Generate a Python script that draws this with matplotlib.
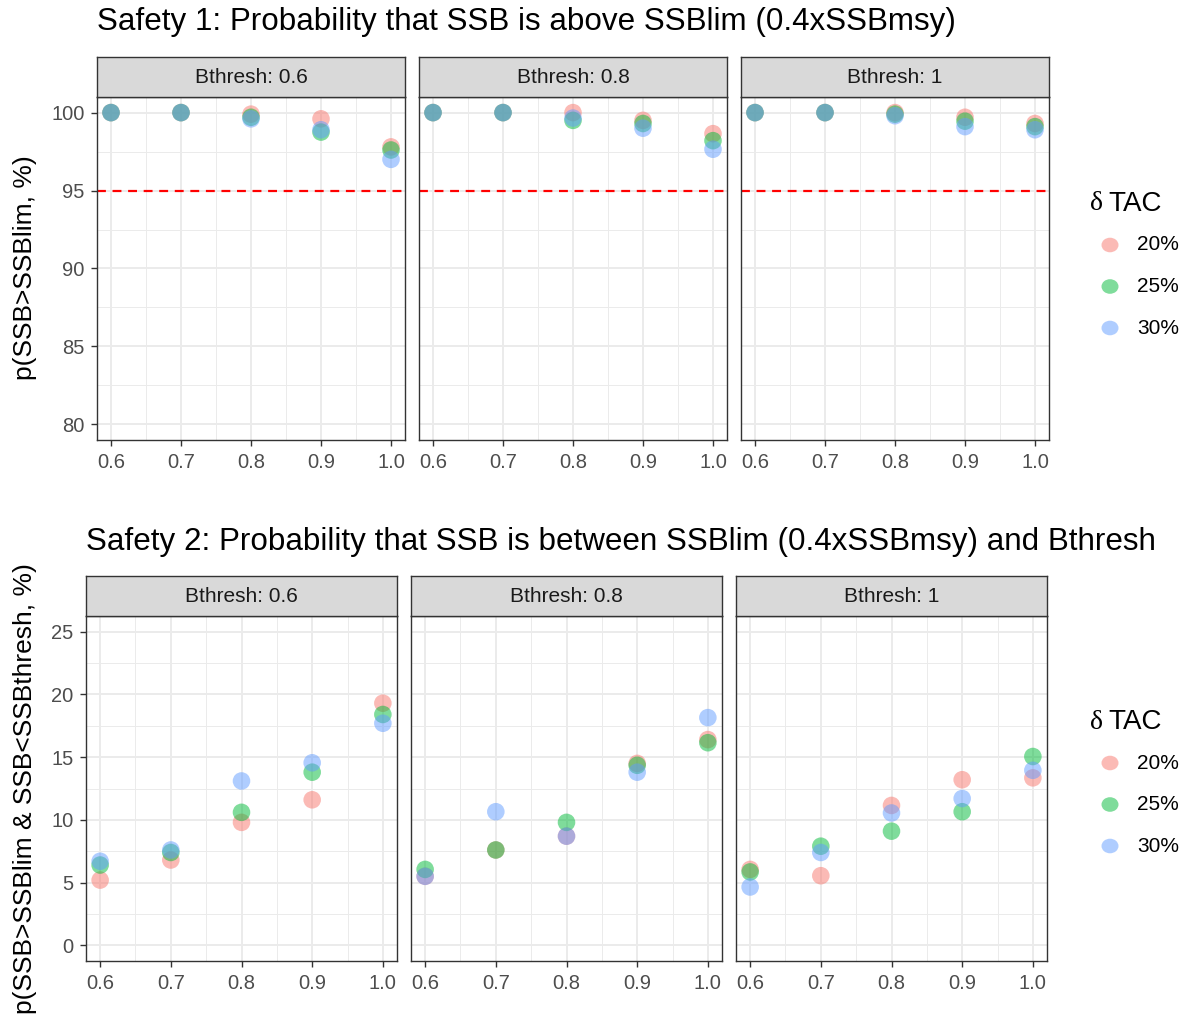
import matplotlib.pyplot as plt
import numpy as np

plt.rcParams['font.family'] = ['Liberation Sans', 'DejaVu Sans']

# data
x_vals = [0.6, 0.7, 0.8, 0.9, 1.0]
bthresh = ['0.6', '0.8', '1']
tac_labels = ['20%', '25%', '30%']
colors = ['#F8766D', '#00BA38', '#619CFF']

# Safety 1: p(SSB > SSBlim), per Bthresh panel, per delta TAC
safety1_b06_20 = [100, 100, 99.9, 99.6, 97.8]
safety1_b06_25 = [100, 100, 99.7, 98.75, 97.6]
safety1_b06_30 = [100, 100, 99.6, 98.9, 97.0]
safety1_b08_20 = [100, 100, 100.0, 99.5, 98.65]
safety1_b08_25 = [100, 100, 99.5, 99.3, 98.2]
safety1_b08_30 = [100, 100, 99.65, 99.0, 97.65]
safety1_b1_20 = [100, 100, 100.0, 99.7, 99.3]
safety1_b1_25 = [100, 100, 99.9, 99.45, 99.1]
safety1_b1_30 = [100, 100, 99.8, 99.1, 98.9]

# Safety 2: p(SSBlim < SSB < Bthresh)
safety2_b06_20 = [5.2, 6.8, 9.8, 11.6, 19.3]
safety2_b06_25 = [6.4, 7.4, 10.6, 13.8, 18.4]
safety2_b06_30 = [6.7, 7.6, 13.1, 14.55, 17.7]
safety2_b08_20 = [5.5, 7.6, 8.7, 14.5, 16.4]
safety2_b08_25 = [6.05, 7.6, 9.8, 14.35, 16.15]
safety2_b08_30 = [5.5, 10.65, 8.7, 13.8, 18.15]
safety2_b1_20 = [6.05, 5.55, 11.15, 13.2, 13.35]
safety2_b1_25 = [5.85, 7.9, 9.1, 10.65, 15.05]
safety2_b1_30 = [4.65, 7.4, 10.55, 11.7, 13.95]

safety1 = [[safety1_b06_20, safety1_b06_25, safety1_b06_30],
           [safety1_b08_20, safety1_b08_25, safety1_b08_30],
           [safety1_b1_20, safety1_b1_25, safety1_b1_30]]
safety2 = [[safety2_b06_20, safety2_b06_25, safety2_b06_30],
           [safety2_b08_20, safety2_b08_25, safety2_b08_30],
           [safety2_b1_20, safety2_b1_25, safety2_b1_30]]

W, H = 1190, 1021
fig = plt.figure(figsize=(W / 100, H / 100), dpi=100)


def box(x0, y0, x1, y1):
    # pixel box (top-left origin) -> figure fraction rect
    return [x0 / W, 1 - y1 / H, (x1 - x0) / W, (y1 - y0) / H]


def facet_row(data, lefts, width, top, bottom, strip_h, ylim, yticks, yminor, hline=None):
    for i, (left, panel) in enumerate(zip(lefts, data)):
        ax = fig.add_axes(box(left, top, left + width, bottom))
        ax.set_xlim(0.58, 1.02)
        ax.set_ylim(*ylim)
        ax.set_xticks(x_vals)
        ax.set_xticks([0.65, 0.75, 0.85, 0.95], minor=True)
        ax.set_yticks(yticks)
        ax.set_yticks(yminor, minor=True)
        ax.grid(True, which='major', color='#EBEBEB', lw=1.4)
        ax.grid(True, which='minor', color='#EBEBEB', lw=0.7)
        ax.set_axisbelow(True)
        ax.tick_params(which='minor', length=0)
        ax.tick_params(which='major', length=4, color='#333333', width=1,
                       labelsize=14.5, labelcolor='#4D4D4D', pad=5)
        ax.set_xticklabels(['0.6', '0.7', '0.8', '0.9', '1.0'])
        if i > 0:
            ax.tick_params(axis='y', left=False, labelleft=False)
        for sp in ax.spines.values():
            sp.set_color('#333333')
            sp.set_linewidth(1)
        if hline is not None:
            ax.axhline(hline, color='red', ls=(0, (4, 3)), lw=1.6, zorder=1)
        for vals, c in zip(panel, colors):
            ax.scatter(x_vals, vals, s=160, color=c, alpha=0.5, edgecolors='none', zorder=3)
        # facet strip
        sax = fig.add_axes(box(left, top - strip_h, left + width, top))
        sax.set_facecolor('#D9D9D9')
        sax.set_xticks([])
        sax.set_yticks([])
        for sp in sax.spines.values():
            sp.set_color('#333333')
            sp.set_linewidth(1)
        sax.text(0.5, 0.5, 'Bthresh: ' + bthresh[i], ha='center', va='center',
                 fontsize=15, color='#1A1A1A', transform=sax.transAxes)


def legend_at(ytitle):
    fig.text(1090 / W, 1 - ytitle / H, '\u03b4', fontsize=20, va='center', ha='left',
             family=['Liberation Serif', 'DejaVu Serif'])
    fig.text(1108 / W, 1 - ytitle / H, 'TAC', fontsize=20, va='center', ha='left')
    for k, (lab, c) in enumerate(zip(tac_labels, colors)):
        yy = ytitle + 41 + k * 41.5
        fig.patches.append(plt.Circle((1110 / W, 1 - yy / H), 8.5 / W, transform=fig.transFigure,
                                      color=c, alpha=0.5, lw=0, figure=fig))
        fig.text(1137 / W, 1 - yy / H, lab, fontsize=15, va='center', ha='left')


# top row
facet_row(safety1, [97, 419, 741], 308, 97, 440, 40,
          (79, 101), [80, 85, 90, 95, 100], [82.5, 87.5, 92.5, 97.5], hline=95)
fig.text(97 / W, 1 - 22 / H, 'Safety 1: Probability that SSB is above SSBlim (0.4xSSBmsy)',
         fontsize=22.6, va='center', ha='left')
fig.text(25 / W, 1 - 268 / H, 'p(SSB>SSBlim, %)', fontsize=19, rotation=90,
         va='center', ha='center')
legend_at(204)

# bottom row
facet_row(safety2, [86, 411, 736], 311, 616, 961, 40,
          (-1.25, 26.25), [0, 5, 10, 15, 20, 25], [2.5, 7.5, 12.5, 17.5, 22.5])
fig.text(86 / W, 1 - 542 / H, 'Safety 2: Probability that SSB is between SSBlim (0.4xSSBmsy) and Bthresh',
         fontsize=22.6, va='center', ha='left')
fig.text(25 / W, 1 - 789 / H, 'p(SSB>SSBlim & SSB<SSBthresh, %)', fontsize=19, rotation=90,
         va='center', ha='center')
legend_at(722)

fig.savefig('out.png', dpi=100)
